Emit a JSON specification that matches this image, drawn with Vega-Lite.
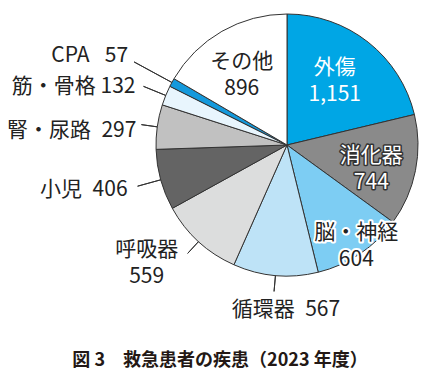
{
  "$schema": "https://vega.github.io/schema/vega-lite/v6.json",
  "width": 268,
  "height": 264,
  "autosize": {"type": "none"},
  "padding": {"left": 153, "top": 13, "right": 13, "bottom": 104},
  "background": "white",
  "config": {
    "view": {"stroke": null},
    "font": "Noto Sans CJK JP",
    "text": {"font": "Noto Sans CJK JP", "fontSize": 21, "fill": "#222"}
  },
  "title": {
    "text": "図 3　救急患者の疾患（2023 年度）",
    "orient": "bottom",
    "anchor": "middle",
    "frame": "group",
    "dx": -67,
    "offset": 27,
    "fontSize": 18,
    "fontWeight": "bold",
    "font": "Noto Sans CJK JP",
    "color": "#231815"
  },
  "data": {
    "values": [
      {"cat": "外傷", "value": 1151, "idx": 1},
      {"cat": "消化器", "value": 744, "idx": 2},
      {"cat": "脳・神経", "value": 604, "idx": 3},
      {"cat": "循環器", "value": 567, "idx": 4},
      {"cat": "呼吸器", "value": 559, "idx": 5},
      {"cat": "小児", "value": 406, "idx": 6},
      {"cat": "腎・尿路", "value": 297, "idx": 7},
      {"cat": "筋・骨格", "value": 132, "idx": 8},
      {"cat": "CPA", "value": 57, "idx": 9},
      {"cat": "その他", "value": 896, "idx": 10}
    ]
  },
  "encoding": {
    "theta": {"field": "value", "type": "quantitative", "stack": true},
    "order": {"field": "idx", "type": "quantitative"},
    "detail": {"field": "cat", "type": "nominal"}
  },
  "layer": [
    {
      "mark": {"type": "arc", "outerRadius": 131, "stroke": "#333", "strokeWidth": 1},
      "encoding": {
        "color": {
          "field": "cat",
          "type": "nominal",
          "legend": null,
          "scale": {
            "domain": ["外傷", "消化器", "脳・神経", "循環器", "呼吸器", "小児", "腎・尿路", "筋・骨格", "CPA", "その他"],
            "range": ["#00a6e5", "#8a8a8a", "#7dcdf3", "#bee3f7", "#dcdddd", "#646464", "#c1c1c1", "#e8f5fd", "#1499dc", "#ffffff"]
          }
        }
      }
    },
    {
      "mark": {"type": "arc", "radius": 155, "radius2": 131, "padAngle": 2, "stroke": "#333", "strokeWidth": 1, "fillOpacity": 0},
      "encoding": {"strokeOpacity": {"condition": {"test": "indexof(['筋・骨格','小児'], datum.cat) >= 0", "value": 1}, "value": 0}}
    },
    {
      "mark": {"type": "arc", "radius": 147, "radius2": 131, "padAngle": 2, "stroke": "#333", "strokeWidth": 1, "fillOpacity": 0},
      "encoding": {"strokeOpacity": {"condition": {"test": "indexof(['腎・尿路','呼吸器','循環器'], datum.cat) >= 0", "value": 1}, "value": 0}}
    },
    {
      "mark": {"type": "arc", "radius": 174, "radius2": 131, "padAngle": 2, "stroke": "#333", "strokeWidth": 1, "fillOpacity": 0},
      "encoding": {"strokeOpacity": {"condition": {"test": "datum.cat === 'CPA'", "value": 1}, "value": 0}}
    },
    {
      "mark": {"type": "text", "radius": 82, "dx": -3, "dy": -13, "fill": "white", "lineBreak": "\n", "lineHeight": 27, "text": {"expr": "datum.cat + '\\n' + format(datum.value, ',')"}},
      "encoding": {"opacity": {"condition": {"test": "datum.cat === '外傷'", "value": 1}, "value": 0}}
    },
    {
      "mark": {"type": "text", "radius": 87, "dx": -1, "dy": -6, "fill": "#333", "stroke": "#333", "strokeWidth": 3, "strokeJoin": "round", "lineBreak": "\n", "lineHeight": 27, "text": {"expr": "datum.cat + '\\n' + format(datum.value, ',')"}},
      "encoding": {"opacity": {"condition": {"test": "datum.cat === '消化器'", "value": 1}, "value": 0}}
    },
    {
      "mark": {"type": "text", "radius": 87, "dx": -1, "dy": -6, "fill": "white", "lineBreak": "\n", "lineHeight": 27, "text": {"expr": "datum.cat + '\\n' + format(datum.value, ',')"}},
      "encoding": {"opacity": {"condition": {"test": "datum.cat === '消化器'", "value": 1}, "value": 0}}
    },
    {
      "mark": {"type": "text", "radius": 119, "dx": 3, "dy": -11, "fill": "white", "stroke": "white", "strokeWidth": 4, "strokeJoin": "round", "lineBreak": "\n", "lineHeight": 27, "text": {"expr": "datum.cat + '\\n' + format(datum.value, ',')"}},
      "encoding": {"opacity": {"condition": {"test": "datum.cat === '脳・神経'", "value": 1}, "value": 0}}
    },
    {
      "mark": {"type": "text", "radius": 119, "dx": 3, "dy": -11, "fill": "#222", "lineBreak": "\n", "lineHeight": 27, "text": {"expr": "datum.cat + '\\n' + format(datum.value, ',')"}},
      "encoding": {"opacity": {"condition": {"test": "datum.cat === '脳・神経'", "value": 1}, "value": 0}}
    },
    {
      "mark": {"type": "text", "radius": 85, "dx": -3, "dy": -9, "fill": "#222", "lineBreak": "\n", "lineHeight": 27, "text": {"expr": "datum.cat + '\\n' + format(datum.value, ',')"}},
      "encoding": {"opacity": {"condition": {"test": "datum.cat === 'その他'", "value": 1}, "value": 0}}
    },
    {
      "mark": {"type": "text", "radius": 174, "dx": -6, "dy": -6, "align": "right", "fill": "#222", "text": {"expr": "datum.cat + '\u2002\u00a0' + datum.value"}},
      "encoding": {"opacity": {"condition": {"test": "datum.cat === 'CPA'", "value": 1}, "value": 0}}
    },
    {
      "mark": {"type": "text", "radius": 155, "dx": -8, "dy": 1, "align": "right", "fill": "#222", "text": {"expr": "datum.cat + ' ' + datum.value"}},
      "encoding": {"opacity": {"condition": {"test": "datum.cat === '筋・骨格'", "value": 1}, "value": 0}}
    },
    {
      "mark": {"type": "text", "radius": 147, "dx": -5, "dy": 6, "align": "right", "fill": "#222", "text": {"expr": "datum.cat + '\u2002' + datum.value"}},
      "encoding": {"opacity": {"condition": {"test": "datum.cat === '腎・尿路'", "value": 1}, "value": 0}}
    },
    {
      "mark": {"type": "text", "radius": 155, "dx": -10, "dy": 4, "align": "right", "fill": "#222", "text": {"expr": "datum.cat + '\u2002' + datum.value"}},
      "encoding": {"opacity": {"condition": {"test": "datum.cat === '小児'", "value": 1}, "value": 0}}
    },
    {
      "mark": {"type": "text", "radius": 147, "dx": -41, "dy": -3, "align": "center", "fill": "#222", "lineBreak": "\n", "lineHeight": 27, "text": {"expr": "datum.cat + '\\n' + datum.value"}},
      "encoding": {"opacity": {"condition": {"test": "datum.cat === '呼吸器'", "value": 1}, "value": 0}}
    },
    {
      "mark": {"type": "text", "radius": 160, "dx": 13, "dy": 6, "align": "center", "fill": "#222", "text": {"expr": "datum.cat + '\u2002' + datum.value"}},
      "encoding": {"opacity": {"condition": {"test": "datum.cat === '循環器'", "value": 1}, "value": 0}}
    }
  ]
}
